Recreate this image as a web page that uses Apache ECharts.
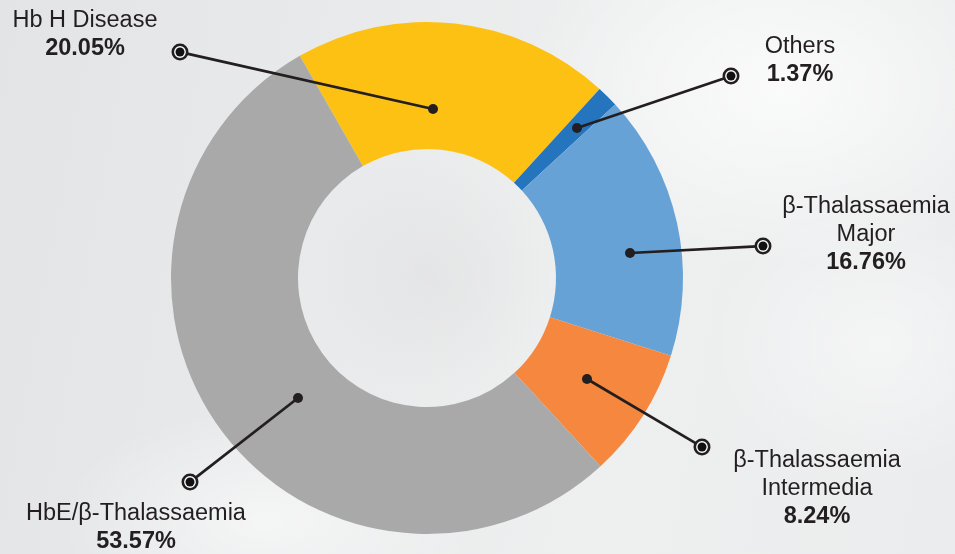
<!DOCTYPE html>
<html>
<head>
<meta charset="utf-8">
<style>
  html, body { margin: 0; padding: 0; width: 955px; height: 554px; overflow: hidden; }
  body {
    background:
      radial-gradient(ellipse 380px 260px at 82% 16%, rgba(255,255,255,0.75), rgba(255,255,255,0) 70%),
      radial-gradient(ellipse 300px 160px at 28% 94%, rgba(255,255,255,0.55), rgba(255,255,255,0) 70%),
      radial-gradient(ellipse 240px 200px at 92% 62%, rgba(255,255,255,0.45), rgba(255,255,255,0) 70%),
      radial-gradient(ellipse 150px 150px at 45% 50%, rgba(222,222,224,0.5), rgba(222,222,224,0) 80%),
      linear-gradient(100deg, #e3e4e6 0%, #e9eaeb 35%, #eeefef 65%, #ebeced 100%);
  }
  #chart { width: 955px; height: 554px; }
</style>
<script src="https://cdn.jsdelivr.net/npm/echarts@6/dist/echarts.min.js"></script>
</head>
<body>
<div id="chart"></div>
<script>
// ---- data ----
var categories = ['Hb H Disease', 'Others', 'β-Thalassaemia\nMajor', 'β-Thalassaemia\nIntermedia', 'HbE/β-Thalassaemia'];
var shares = [20.05, 1.37, 16.76, 8.24, 53.57];
var sliceColors = ['#fdc114', '#2474be', '#66a2d6', '#f5873f', '#a8a9a8'];

// ---- callout layout (annotation positions, px) ----
var calloutDot = [[433, 109], [577, 128], [630, 253], [587, 379], [298, 398]];
var calloutMarker = [[180, 52], [731, 76], [763, 246], [702, 447], [190, 482]];
var calloutText = [[85, 35], [800, 61], [866, 235], [817, 489], [136, 528]];

var center = [427, 278];
var startAngle = 119.8;
var ink = '#231f20';
var font = '"Liberation Sans", Arial, sans-serif';

var pieData = categories.map(function (c, i) {
  return { name: c, value: shares[i], itemStyle: { color: sliceColors[i] } };
});
var ghostData = categories.map(function (c, i) {
  return { name: c, value: shares[i] };
});

function common(extra) {
  var base = {
    type: 'pie',
    center: center,
    startAngle: startAngle,
    clockwise: true,
    silent: true,
    animation: false,
    avoidLabelOverlap: false,
    emphasis: { disabled: true },
    itemStyle: { color: 'rgba(0,0,0,0)' },
    data: ghostData
  };
  for (var k in extra) base[k] = extra[k];
  return base;
}

var chart = echarts.init(document.getElementById('chart'), null, { renderer: 'canvas' });
chart.setOption({
  backgroundColor: 'transparent',
  series: [
    // ring
    common({
      radius: [129, 256],
      data: pieData,
      itemStyle: {},
      label: { show: false },
      labelLine: { show: false },
      z: 1
    }),
    // leader lines + end markers
    common({
      radius: [0, 190],
      z: 3,
      label: {
        show: true,
        position: 'outside',
        formatter: '{m| }',
        backgroundColor: ink,
        borderRadius: 9,
        padding: 4,
        rich: {
          m: {
            width: 9, height: 9, lineHeight: 9, fontSize: 1,
            backgroundColor: '#111',
            borderColor: '#ffffff',
            borderWidth: 1.4,
            borderRadius: 5
          }
        }
      },
      labelLine: {
        show: true,
        length: 10,
        length2: 10,
        lineStyle: { color: ink, width: 2.7 }
      },
      labelLayout: function (p) {
        var i = p.dataIndex;
        var d = calloutDot[i], m = calloutMarker[i];
        var vx = d[0] - m[0], vy = d[1] - m[1];
        var len = Math.sqrt(vx * vx + vy * vy);
        var end = [m[0] + vx / len * 6, m[1] + vy / len * 6];
        return {
          x: m[0], y: m[1], align: 'center', verticalAlign: 'middle',
          labelLinePoints: [d.slice(), end]
        };
      }
    }),
    // start dots
    common({
      radius: [0, 190],
      z: 4,
      label: {
        show: true,
        position: 'outside',
        formatter: '{d| }',
        rich: {
          d: { width: 10, height: 10, lineHeight: 10, fontSize: 1, backgroundColor: ink, borderRadius: 5 }
        }
      },
      labelLine: { show: false },
      labelLayout: function (p) {
        var d = calloutDot[p.dataIndex];
        return { x: d[0], y: d[1], align: 'center', verticalAlign: 'middle' };
      }
    }),
    // text labels
    common({
      radius: [0, 190],
      z: 5,
      label: {
        show: true,
        position: 'outside',
        formatter: function (p) {
          return '{n|' + p.name + '}\n{v|' + p.value.toFixed(2) + '%}';
        },
        rich: {
          n: { fontFamily: font, fontSize: 23.5, color: ink, lineHeight: 28, align: 'center' },
          v: { fontFamily: font, fontSize: 23.5, fontWeight: 'bold', color: ink, lineHeight: 28, align: 'center' }
        }
      },
      labelLine: { show: false },
      labelLayout: function (p) {
        var t = calloutText[p.dataIndex];
        return { x: t[0], y: t[1], align: 'center', verticalAlign: 'middle' };
      }
    })
  ]
});
</script>
</body>
</html>
